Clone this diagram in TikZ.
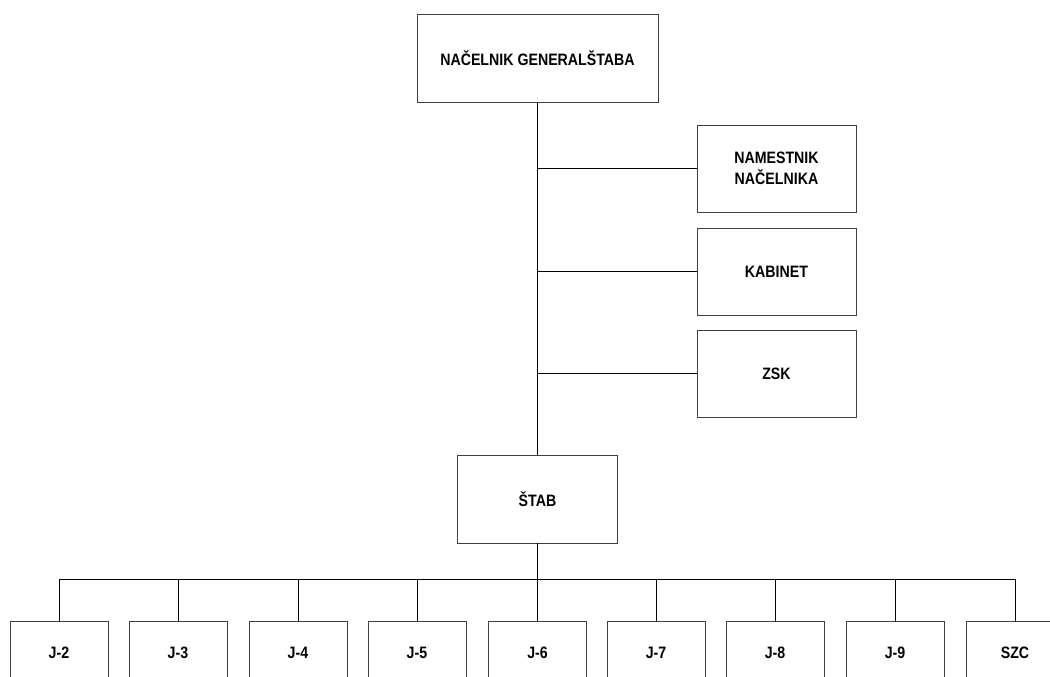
\documentclass[tikz,border=0pt]{standalone}
\usepackage{fontspec}
\setmainfont{Liberation Sans}
\newfontfamily\narrowsans[FakeStretch=0.86]{Liberation Sans}
\begin{document}
\begin{tikzpicture}[x=1pt,y=-1pt,
  box/.style={draw=black!75,line width=0.9pt,fill=white,rectangle,inner sep=0pt,
    font=\narrowsans\fontsize{16.5}{21}\selectfont\bfseries,align=center},
  link/.style={draw=black,line width=0.8pt}]
\useasboundingbox (0,0) rectangle (1050,677);
\clip (0,0) rectangle (1050,677);
\node[box,minimum width=241,minimum height=88] (top) at (537.5,58) {NAČELNIK GENERALŠTABA};
\node[box,minimum width=159,minimum height=87] (nam) at (776.5,168.5) {NAMESTNIK\\NAČELNIKA};
\node[box,minimum width=159,minimum height=87] (kab) at (776.5,271.5) {KABINET};
\node[box,minimum width=159,minimum height=87] (zsk) at (776.5,373.5) {ZSK};
\node[box,minimum width=160,minimum height=88] (stab) at (537.5,499) {ŠTAB};
\coordinate (bus) at (537.5,579);
\foreach \i/\t/\x in {1/J-2/59,2/J-3/178,3/J-4/298,4/J-5/417,5/J-6/537.5,6/J-7/656,7/J-8/775,8/J-9/895,9/SZC/1015}{
  \node[box,minimum width=98,minimum height=64] (b\i) at (\x,653) {\t};
}
\draw[link] (top.south) -- (stab.north);
\draw[link] (top.south |- nam.west) -- (nam.west);
\draw[link] (top.south |- kab.west) -- (kab.west);
\draw[link] (top.south |- zsk.west) -- (zsk.west);
\draw[link] (stab.south) -- (bus);
\draw[link] (b1.north |- bus) -- (b9.north |- bus);
\foreach \i in {1,...,9}{\draw[link] (b\i.north) -- (b\i.north |- bus);}
\end{tikzpicture}
\end{document}
